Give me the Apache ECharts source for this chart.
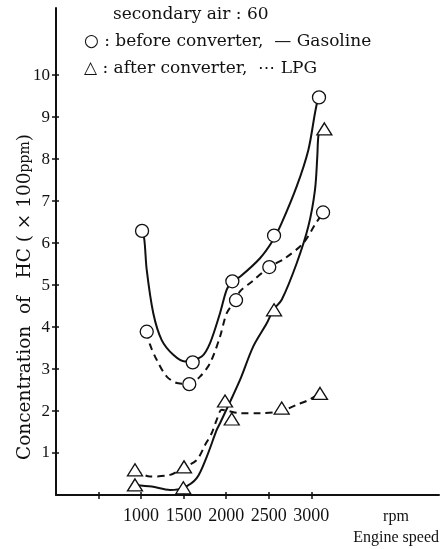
<!DOCTYPE html>
<html><head><meta charset="utf-8">
<script src="https://cdn.jsdelivr.net/npm/echarts@6/dist/echarts.min.js"></script>
<style>html,body{margin:0;padding:0;background:#fff}#c{width:440px;height:549px}</style>
</head><body><div id="c"></div>
<script>
// Axis ticks / labels
const xTickValues = [500, 1000, 1500, 2000, 2500, 3000];
const xLabelValues = [1000, 1500, 2000, 2500, 3000];
const yTickValues = [1, 2, 3, 4, 5, 6, 7, 8, 9, 10];

// Measured points (markers)
const gasBeforeX = [1011, 1606, 2072, 2562, 3090];
const gasBefore  = [6.29, 3.16, 5.09, 6.18, 9.47];
const lpgBeforeX = [1066, 1566, 2115, 2506, 3138];
const lpgBefore  = [3.89, 2.64, 4.64, 5.43, 6.73];
const gasAfterX  = [928, 1496, 2065, 2562, 3153];
const gasAfter   = [0.24, 0.17, 1.81, 4.41, 8.72];
const lpgAfterX  = [928, 1504, 1986, 2652, 3102];
const lpgAfter   = [0.60, 0.67, 2.24, 2.07, 2.42];

// Hand-drawn fitted curves
const gasBeforeCurveX = [1011, 1038, 1066, 1143, 1242, 1378, 1516, 1712, 1810, 1927, 2006, 2072, 2162, 2397, 2553, 2652, 2828, 2965, 3043, 3075];
const gasBeforeCurve  = [6.29, 6.08, 5.36, 4.33, 3.69, 3.34, 3.18, 3.30, 3.62, 4.33, 4.89, 5.09, 5.20, 5.64, 6.08, 6.48, 7.35, 8.22, 9.10, 9.42];
const lpgBeforeCurveX = [1066, 1105, 1183, 1301, 1437, 1566, 1692, 1810, 1927, 2006, 2115, 2162, 2300, 2506, 2691, 2906, 3043, 3138];
const lpgBeforeCurve  = [3.89, 3.58, 3.22, 2.82, 2.66, 2.65, 2.82, 3.14, 3.77, 4.33, 4.65, 4.85, 5.08, 5.43, 5.64, 6.00, 6.44, 6.73];
const gasAfterCurveX  = [928, 1125, 1340, 1496, 1653, 1771, 1888, 1927, 2045, 2162, 2318, 2476, 2553, 2652, 2828, 2965, 3043, 3070, 3082, 3102];
const gasAfterCurve   = [0.24, 0.20, 0.12, 0.17, 0.40, 0.91, 1.55, 1.71, 2.22, 2.74, 3.54, 4.09, 4.41, 4.65, 5.52, 6.40, 7.27, 8.06, 8.54, 8.65];
const lpgAfterCurveX  = [928, 1104, 1340, 1504, 1653, 1751, 1829, 1888, 1947, 2021, 2162, 2397, 2632, 2828, 2965, 3102];
const lpgAfterCurve   = [0.60, 0.44, 0.48, 0.66, 0.83, 1.19, 1.47, 1.79, 2.03, 2.00, 1.95, 1.95, 1.99, 2.15, 2.26, 2.42];

const pairs = (xs, ys) => xs.map((x, i) => [x, ys[i]]);
const FONT = '"DejaVu Serif", "Liberation Serif", serif';
const NARROW = '"Liberation Serif", "DejaVu Serif", serif';
const INK = '#111';

function curve(xs, ys, dashed) {
  return {
    type: 'line', data: pairs(xs, ys), smooth: 0.3, showSymbol: false, silent: true,
    lineStyle: { color: INK, width: 2, type: dashed ? [7, 5] : 'solid' }, z: 2
  };
}
function marks(xs, ys, sym) {
  return {
    type: 'scatter', data: pairs(xs, ys), symbol: sym,
    symbolSize: sym === 'circle' ? 13 : [15, 12],
    itemStyle: { color: '#fff', borderColor: INK, borderWidth: 1.3, opacity: 1 }, z: 3
  };
}

const chart = echarts.init(document.getElementById('c'), null, { renderer: 'canvas' });
const tickStyle = { color: INK, width: 1.5 };
chart.setOption({
  backgroundColor: '#fff',
  animation: false,
  textStyle: { fontFamily: FONT, color: INK },
  grid: { left: 56, right: 1, top: 8, bottom: 54, containLabel: false },
  xAxis: [{
    type: 'value', min: 0, max: 4500,
    splitLine: { show: false },
    axisLine: { lineStyle: { color: INK, width: 2 } },
    axisTick: { customValues: xTickValues, length: 4, lineStyle: tickStyle },
    axisLabel: { customValues: xLabelValues, formatter: v => String(v), color: INK, fontFamily: NARROW, fontSize: 18, margin: 12 }
  }, {
    type: 'value', min: 0, max: 4500, position: 'bottom',
    splitLine: { show: false }, axisLine: { show: false }, axisLabel: { show: false },
    axisTick: { customValues: xTickValues, inside: true, length: 3, lineStyle: tickStyle }
  }],
  yAxis: [{
    type: 'value', min: 0, max: 11.6,
    splitLine: { show: false },
    axisLine: { lineStyle: { color: INK, width: 2 } },
    axisTick: { customValues: yTickValues, length: 4, lineStyle: tickStyle },
    axisLabel: { customValues: yTickValues, color: INK, fontFamily: NARROW, fontSize: 17, margin: 6 }
  }, {
    type: 'value', min: 0, max: 11.6, position: 'left',
    splitLine: { show: false }, axisLine: { show: false }, axisLabel: { show: false },
    axisTick: { customValues: yTickValues, inside: true, length: 3, lineStyle: tickStyle }
  }],
  graphic: [
    { type: 'text', x: 113, y: 15, style: { text: 'secondary air : 60', font: '17px ' + FONT, fill: INK, verticalAlign: 'middle' } },
    { type: 'text', x: 84, y: 42, style: { text: '○ : before converter,  — Gasoline', font: '17px ' + FONT, fill: INK, verticalAlign: 'middle' } },
    { type: 'text', x: 84, y: 69, style: { text: '△ : after converter,  ⋯ LPG', font: '17px ' + FONT, fill: INK, verticalAlign: 'middle' } },
    { type: 'text', x: 25, y: 297, rotation: Math.PI / 2, style: {
        text: '{a|Concentration  of   HC ( × 100}{b|ppm}{a|)}', align: 'center', verticalAlign: 'middle',
        rich: { a: { font: '18.5px ' + FONT, fill: INK }, b: { font: '14px ' + FONT, fill: INK } } } },
    { type: 'text', x: 396, y: 517, style: { text: 'rpm', font: '16px ' + NARROW, fill: INK, align: 'center', verticalAlign: 'middle' } },
    { type: 'text', x: 439, y: 538, style: { text: 'Engine speed', font: '16px ' + NARROW, fill: INK, align: 'right', verticalAlign: 'middle' } }
  ],
  series: [
    curve(gasBeforeCurveX, gasBeforeCurve, false),
    curve(lpgBeforeCurveX, lpgBeforeCurve, true),
    curve(gasAfterCurveX, gasAfterCurve, false),
    curve(lpgAfterCurveX, lpgAfterCurve, true),
    marks(gasBeforeX, gasBefore, 'circle'),
    marks(lpgBeforeX, lpgBefore, 'circle'),
    marks(gasAfterX, gasAfter, 'triangle'),
    marks(lpgAfterX, lpgAfter, 'triangle')
  ]
});
</script></body></html>
